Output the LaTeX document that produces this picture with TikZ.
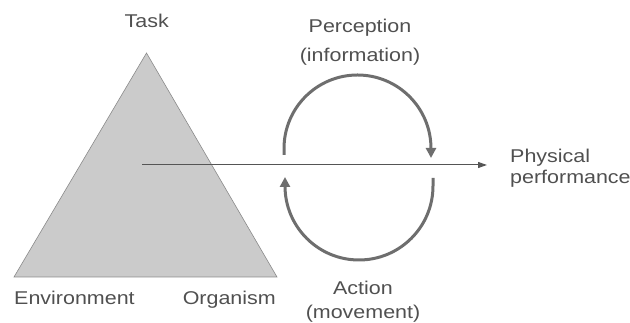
\documentclass[tikz,border=0pt]{standalone}
\usepackage{fontspec}
\setmainfont{Liberation Sans}[FakeStretch=1.16]
\usepackage{tikz}
\usetikzlibrary{arrows.meta}
\definecolor{trifill}{HTML}{CBCBCB}
\definecolor{triedge}{HTML}{8A8A8A}
\definecolor{loopgray}{HTML}{6E6E6E}
\definecolor{linegray}{HTML}{555555}
\definecolor{textgray}{HTML}{505050}

\begin{document}
\begin{tikzpicture}[x=1pt, y=1pt,
  label/.style={font=\fontsize{18.5}{21}\selectfont, text=textgray, inner sep=0pt, align=center},
  loop/.style={line width=3pt, draw=loopgray, -{Triangle[length=10pt,width=10pt]}}]
\useasboundingbox (0,0) rectangle (630,323);
% the triangle
\coordinate (apex) at (146.5,270);
\coordinate (lc) at (14,46);
\coordinate (rc) at (277,46);
\draw[fill=trifill, draw=triedge, line width=0.6pt] (apex) -- (rc) -- (lc) -- cycle;
\node[label, anchor=base] (task) at (146.7,295.7) {Task};
\node[label, anchor=base west] (env) at (14,18) {Environment};
\node[label, anchor=base east] (org) at (276,18) {Organism};
% performance arrow
\coordinate (core) at (142,158);
\node[label, align=left, anchor=base west] (perf) at (510,139.7) {Physical\\performance};
\draw[line width=1pt, draw=linegray, -{Triangle[length=9pt,width=6pt]}] (core) -- ([xshift=-23pt]core -| perf.west);
% perception-action loop
\node[label, anchor=base] (perc) at (360,261.3) {Perception\\[8.4pt](information)};
\node[label, anchor=base] (act) at (363,4.7) {Action\\[2.3pt](movement)};
\coordinate (pstart) at (284,168);
\coordinate (ptip) at (431,165);
\coordinate (astart) at (433,145);
\coordinate (atip) at (285,146);
\draw[loop] (pstart) -- ++(0,6.5) arc[start angle=180, end angle=0, radius=73.5] -- (ptip);
\draw[loop] (astart) -- ++(0,-8) arc[start angle=0, end angle=-180, radius=74] -- (atip);
\end{tikzpicture}
\end{document}
